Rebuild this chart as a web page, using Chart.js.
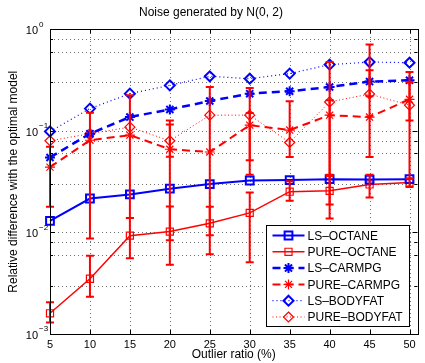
<!DOCTYPE html>
<html>
<head>
<meta charset="utf-8">
<script src="https://cdn.jsdelivr.net/npm/chart.js@4.4.1/dist/chart.umd.min.js"></script>
<style>
  html, body { margin: 0; padding: 0; background: #fff; }
</style>
</head>
<body>
<canvas id="myChart" width="425" height="363"></canvas>
<script>
// x: outlier ratio (%)
const outlierRatio = [5, 10, 15, 20, 25, 30, 35, 40, 45, 50]
const xTicks = [5, 10, 15, 20, 25, 30, 35, 40, 45, 50]
const yMajor = [0.001, 0.01, 0.1, 1]
const yExponent = ['\u22123', '\u22122', '\u22121', '0']

// series values
const lsOctane = [0.013, 0.0216, 0.0237, 0.027, 0.030, 0.0325, 0.0328, 0.0335, 0.0332, 0.0335]
const pureOctane = [0.0016, 0.0035, 0.0093, 0.0102, 0.0123, 0.0156, 0.0252, 0.0257, 0.0297, 0.031]
const pureOctaneLow = [0.0013, 0.00233, 0.00556, 0.0048, 0.0061, 0.0051, 0.0205, 0.0137, 0.0221, 0.028]
const pureOctaneHigh = [0.00205, 0.0059, 0.0139, 0.018, 0.0179, 0.0248, 0.032, 0.036, 0.037, 0.034]

const lsCarmpg = [0.0547, 0.094, 0.137, 0.163, 0.197, 0.233, 0.246, 0.271, 0.306, 0.315]
const pureCarmpg = [0.044, 0.081, 0.091, 0.066, 0.062, 0.114, 0.102, 0.143, 0.137, 0.205]
const pureCarmpgLow = [0.0179, 0.0087, 0.0139, 0.0084, 0.0094, 0.037, 0.0555, 0.0189, 0.0555, 0.034]
const pureCarmpgHigh = [0.07, 0.151, 0.224, 0.127, 0.271, 0.265, 0.196, 0.477, 0.395, 0.38]

const lsBodyfat = [0.099, 0.166, 0.233, 0.281, 0.345, 0.327, 0.367, 0.45, 0.477, 0.47]
const pureBodyfat = [0.080, 0.094, 0.109, 0.080, 0.143, 0.143, 0.077, 0.193, 0.231, 0.179]
const pureBodyfatLow = [null, null, null, 0.0557, null, 0.0515, null, 0.037, 0.22, 0.127]
const pureBodyfatHigh = [null, null, null, 0.116, null, 0.15, null, 0.2, 0.711, 0.303]

const BLUE = '#0000ff'
const RED = '#ff0000'
const FONT = '"Liberation Sans", Arial, sans-serif'

function points(values) {
    return outlierRatio.map((x, i) => ({ x: x, y: values[i] }))
}

function series(label, values, color, dash, width, style, radius, markerWidth, low, high) {
    return {
        label: label,
        data: points(values),
        borderColor: color,
        borderWidth: width,
        borderDash: dash,
        pointStyle: style,
        pointRadius: radius,
        pointBorderWidth: markerWidth,
        pointBorderColor: color,
        pointBackgroundColor: 'rgba(0,0,0,0)',
        fill: false,
        tension: 0,
        clip: false,
        errLow: low,
        errHigh: high
    }
}

// markers for the legend box
function drawMarker(ctx, style, x, y, r) {
    ctx.beginPath()
    if (style === 'rect') {
        const s = r / Math.SQRT2
        ctx.rect(x - s, y - s, 2 * s, 2 * s)
    } else if (style === 'rectRot') {
        ctx.moveTo(x, y - r); ctx.lineTo(x + r, y); ctx.lineTo(x, y + r); ctx.lineTo(x - r, y); ctx.closePath()
    } else if (style === 'star') {
        const d = r * Math.cos(Math.PI / 4)
        ctx.moveTo(x - r, y); ctx.lineTo(x + r, y)
        ctx.moveTo(x, y - r); ctx.lineTo(x, y + r)
        ctx.moveTo(x - d, y - d); ctx.lineTo(x + d, y + d)
        ctx.moveTo(x - d, y + d); ctx.lineTo(x + d, y - d)
    }
    ctx.stroke()
}

const matlabAxes = {
    id: 'matlabAxes',
    beforeDatasetsDraw(chart) {
        // dotted grid, major and minor
        const ctx = chart.ctx
        const a = chart.chartArea
        const xs = chart.scales.x
        const ys = chart.scales.y
        ctx.save()
        ctx.strokeStyle = '#6f6f6f'
        ctx.lineWidth = 1
        ctx.setLineDash([1, 3])
        ctx.beginPath()
        xs.ticks.forEach((t) => {
            const px = Math.round(xs.getPixelForValue(t.value)) + 0.5
            if (px <= a.left + 1) return
            ctx.moveTo(px, a.bottom); ctx.lineTo(px, a.top)
        })
        ys.ticks.forEach((t) => {
            const py = Math.round(ys.getPixelForValue(t.value)) + 0.5
            if (py <= a.top + 1 || py >= a.bottom - 1) return
            ctx.moveTo(a.left, py); ctx.lineTo(a.right, py)
        })
        ctx.stroke()
        ctx.restore()
    },
    afterDatasetsDraw(chart) {
        // error bars
        const ctx = chart.ctx
        const xs = chart.scales.x
        const ys = chart.scales.y
        ctx.save()
        chart.data.datasets.forEach((ds) => {
            if (!ds.errLow) return
            ctx.strokeStyle = ds.borderColor
            ctx.lineWidth = 2
            ctx.setLineDash([])
            outlierRatio.forEach((x, i) => {
                const lo = ds.errLow[i], hi = ds.errHigh[i]
                if (lo == null || hi == null) return
                const px = xs.getPixelForValue(x)
                const pLo = ys.getPixelForValue(lo)
                const pHi = ys.getPixelForValue(hi)
                ctx.beginPath()
                ctx.moveTo(px, pLo); ctx.lineTo(px, pHi)
                ctx.moveTo(px - 4, pLo); ctx.lineTo(px + 4, pLo)
                ctx.moveTo(px - 4, pHi); ctx.lineTo(px + 4, pHi)
                ctx.stroke()
            })
        })
        ctx.restore()
    },
    afterDraw(chart) {
        const ctx = chart.ctx
        const a = chart.chartArea
        const xs = chart.scales.x
        const ys = chart.scales.y
        ctx.save()
        ctx.setLineDash([])
        ctx.strokeStyle = '#000'
        ctx.lineWidth = 1

        // inner tick marks
        ctx.beginPath()
        xs.ticks.forEach((t) => {
            const px = Math.round(xs.getPixelForValue(t.value)) + 0.5
            ctx.moveTo(px, a.bottom); ctx.lineTo(px, a.bottom - 4)
            ctx.moveTo(px, a.top); ctx.lineTo(px, a.top + 4)
        })
        ys.ticks.forEach((t) => {
            const py = Math.round(ys.getPixelForValue(t.value)) + 0.5
            const len = t.major ? 5 : 3
            ctx.moveTo(a.left, py); ctx.lineTo(a.left + len, py)
            ctx.moveTo(a.right, py); ctx.lineTo(a.right - len, py)
        })
        ctx.stroke()

        // box
        ctx.strokeRect(Math.round(a.left) + 0.5, Math.round(a.top) + 0.5,
            Math.round(a.right - a.left), Math.round(a.bottom - a.top))

        // y tick labels 10^k
        ctx.fillStyle = '#000'
        yMajor.forEach((v, i) => {
            const py = ys.getPixelForValue(v)
            ctx.font = '11px ' + FONT
            ctx.textAlign = 'right'
            ctx.textBaseline = 'middle'
            ctx.fillText('10', a.left - 12, py + 2)
            ctx.font = '8px ' + FONT
            ctx.textAlign = 'left'
            ctx.fillText(yExponent[i], a.left - 11, py - 5)
        })

        // legend
        const bw = 143, bh = 101
        const bx = Math.round(a.right - 9 - bw) + 0.5
        const by = Math.round(a.bottom - 8 - bh) + 0.5
        ctx.fillStyle = '#fff'
        ctx.fillRect(bx, by, bw, bh)
        ctx.strokeStyle = '#000'
        ctx.lineWidth = 1
        ctx.strokeRect(bx, by, bw, bh)
        chart.data.datasets.forEach((ds, i) => {
            const ly = by + 10 + i * 16.3
            ctx.strokeStyle = ds.borderColor
            ctx.lineWidth = ds.borderWidth
            ctx.setLineDash(ds.borderDash || [])
            ctx.beginPath()
            ctx.moveTo(bx + 6, ly); ctx.lineTo(bx + 38, ly)
            ctx.stroke()
            ctx.setLineDash([])
            ctx.lineWidth = ds.pointBorderWidth
            drawMarker(ctx, ds.pointStyle, bx + 22, ly, ds.pointRadius)
            ctx.fillStyle = '#000'
            ctx.font = '12px ' + FONT
            ctx.textAlign = 'left'
            ctx.textBaseline = 'middle'
            ctx.fillText(ds.label, bx + 41, ly + 1)
        })
        ctx.restore()
    }
}

const datasets = [
    series('LS\u2013OCTANE', lsOctane, BLUE, [], 2, 'rect', 5.5, 2),
    series('PURE\u2013OCTANE', pureOctane, RED, [], 1.5, 'rect', 5, 1.2, pureOctaneLow, pureOctaneHigh),
    series('LS\u2013CARMPG', lsCarmpg, BLUE, [8, 5], 2.5, 'star', 5, 2),
    series('PURE\u2013CARMPG', pureCarmpg, RED, [8, 5], 2, 'star', 5, 1.2, pureCarmpgLow, pureCarmpgHigh),
    series('LS\u2013BODYFAT', lsBodyfat, BLUE, [1, 3], 1.2, 'rectRot', 5, 2),
    series('PURE\u2013BODYFAT', pureBodyfat, RED, [1, 2.5], 1, 'rectRot', 5, 1.2, pureBodyfatLow, pureBodyfatHigh)
]

new Chart(document.getElementById('myChart'), {
    type: 'line',
    data: { datasets: datasets },
    plugins: [matlabAxes],
    options: {
        responsive: false,
        animation: false,
        layout: { padding: { top: 0, right: 3, left: 0, bottom: 0 } },
        plugins: {
            legend: { display: false },
            tooltip: { enabled: false },
            title: {
                display: true,
                text: 'Noise generated by N(0, 2)',
                color: '#000',
                font: { family: FONT, size: 12, weight: 'normal' },
                padding: { top: 5, bottom: 10 }
            }
        },
        scales: {
            x: {
                type: 'linear',
                min: 5,
                max: 51,
                afterBuildTicks: (scale) => { scale.ticks = xTicks.map((v) => ({ value: v })) },
                afterFit: (scale) => { scale.height = 29 },
                grid: { display: false, drawTicks: false },
                border: { display: false },
                ticks: {
                    color: '#000',
                    padding: 4,
                    maxRotation: 0,
                    font: { family: FONT, size: 11 }
                },
                title: {
                    display: true,
                    text: 'Outlier ratio (%)',
                    color: '#000',
                    font: { family: FONT, size: 12 },
                    padding: { top: 0, bottom: 1 }
                }
            },
            y: {
                type: 'logarithmic',
                min: 0.001,
                max: 1,
                afterBuildTicks: (scale) => {
                    const ticks = []
                    yMajor.forEach((v, i) => {
                        ticks.push({ value: v, major: true })
                        if (i < yMajor.length - 1) {
                            for (let m = 2; m <= 9; m++) ticks.push({ value: v * m, major: false })
                        }
                    })
                    scale.ticks = ticks
                },
                afterFit: (scale) => { scale.width = 50 },
                grid: { display: false, drawTicks: false },
                border: { display: false },
                ticks: { display: true, callback: () => '', padding: 0 },
                title: {
                    display: true,
                    text: 'Relative difference with the optimal model',
                    color: '#000',
                    font: { family: FONT, size: 12 },
                    padding: { top: 6, bottom: 0 }
                }
            }
        }
    }
})
</script>
</body>
</html>
